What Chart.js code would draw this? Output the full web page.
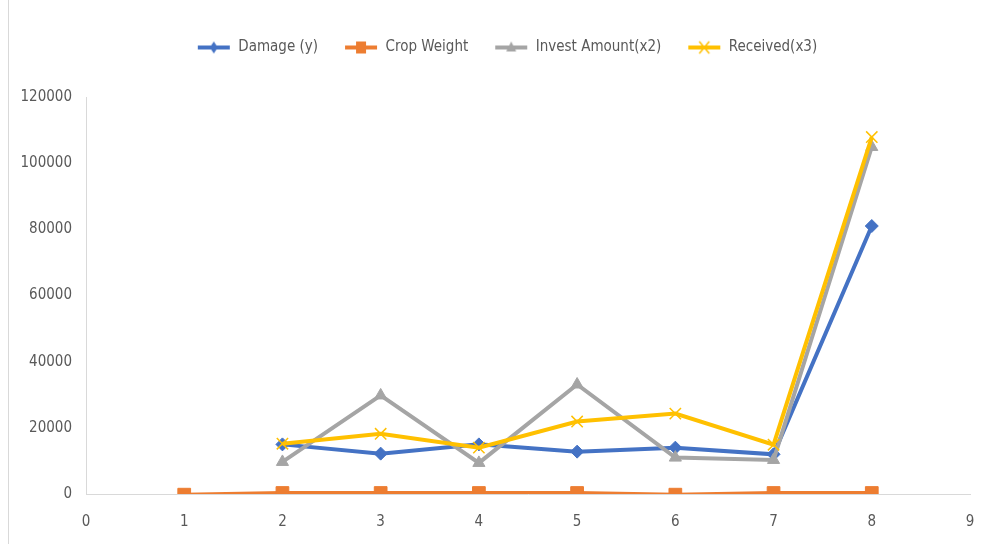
<!DOCTYPE html>
<html><head><meta charset="utf-8">
<script src="https://cdn.jsdelivr.net/npm/chart.js@4/dist/chart.umd.min.js"></script>
<style>
html,body{margin:0;padding:0;background:#fff;}
#wrap{position:relative;width:986px;height:544px;}
#edge{position:absolute;left:8px;top:0;width:1px;height:544px;background:#d9d9d9;}
canvas{position:absolute;left:0;top:0;}
</style></head>
<body><div id="wrap"><div id="edge"></div><canvas id="c" width="986" height="544"></canvas></div>
<script>
const xTicks = [0,1,2,3,4,5,6,7,8,9];
const seriesNames = ['Damage (y)','Crop Weight','Invest Amount(x2)','Received(x3)'];
const damageX = [2,3,4,5,6,7,8];
const damageY = [15000,12200,15000,12800,14000,12000,81000];
const cropX = [1,2,3,4,5,6,7,8];
const cropY = [-200,300,300,300,300,-200,300,300];
const investX = [2,3,4,5,6,7,8];
const investY = [9700,29800,9400,33100,11000,10300,104900];
const receivedX = [2,3,4,5,6,7,8];
const receivedY = [15200,18200,14000,21900,24300,14900,107900];
const yTicks = [0,20000,40000,60000,80000,100000,120000];

const colors = ['#4472C4','#ED7D31','#A5A5A5','#FFC000'];
const styles = ['rectRot','rect','triangle','crossRot'];
const radii = [6.5,9,7,8];

function pts(xs, ys){ return xs.map((x,i)=>({x:x,y:ys[i]})); }

function legendIcon(i){
  const c = document.createElement('canvas');
  c.width = 34; c.height = 16;
  const g = c.getContext('2d');
  g.strokeStyle = colors[i]; g.lineWidth = 4;
  g.beginPath(); g.moveTo(1,8); g.lineTo(33,8); g.stroke();
  g.fillStyle = colors[i];
  const cx=17, cy=8;
  if(i===0){ g.beginPath(); g.moveTo(cx,cy-6); g.lineTo(cx+4,cy); g.lineTo(cx,cy+6); g.lineTo(cx-4,cy); g.closePath(); g.fill(); }
  else if(i===1){ g.fillRect(cx-5,cy-6,10,12); }
  else if(i===2){ g.beginPath(); g.moveTo(cx,cy-6); g.lineTo(cx+5,cy+4); g.lineTo(cx-5,cy+4); g.closePath(); g.fill(); }
  else { g.lineWidth=1.5; g.beginPath(); g.moveTo(cx-5,cy-6); g.lineTo(cx+5,cy+6); g.moveTo(cx+5,cy-6); g.lineTo(cx-5,cy+6); g.stroke(); }
  return c;
}
const icons = [0,1,2,3].map(legendIcon);

function ds(i, data){
  return {
    label: seriesNames[i], data: data,
    borderColor: colors[i], backgroundColor: colors[i],
    borderWidth: 4, pointStyle: styles[i], pointRadius: radii[i],
    pointBorderWidth: i===3?1.5:1, pointBorderColor: colors[i],
    pointBackgroundColor: colors[i], tension: 0, order: 4-i
  };
}

const legendSpace = {
  id: 'legendSpace',
  beforeInit(chart){
    const lg = chart.legend;
    const fit = lg.fit;
    lg.fit = function(){ fit.call(lg); this.height += 32; };
    const draw = lg.draw;
    lg.draw = function(){ const ctx = chart.ctx; ctx.save(); ctx.translate(22,0); draw.call(lg); ctx.restore(); };
  }
};

const FONT = "'DejaVu Sans Condensed','DejaVu Sans',sans-serif";
new Chart(document.getElementById('c'), {
  type: 'line',
  data: { datasets: [ds(0,pts(damageX,damageY)), ds(1,pts(cropX,cropY)), ds(2,pts(investX,investY)), ds(3,pts(receivedX,receivedY))] },
  options: {
    responsive: false, animation: false,
    layout: { padding: { left: 0, right: 16, top: 14, bottom: 2 } },
    plugins: {
      tooltip: { enabled: false },
      legend: {
        position: 'top',
        labels: {
          usePointStyle: true, pointStyleWidth: 34,
          color: '#595959', font: { family: FONT, size: 15 },
          padding: 26,
          generateLabels: (chart) => chart.data.datasets.map((d,i)=>({
            text: d.label, pointStyle: icons[i], fillStyle: colors[i], strokeStyle: colors[i],
            lineWidth: 0, hidden: false, datasetIndex: i, fontColor: '#595959'
          }))
        }
      }
    },
    scales: {
      x: {
        type: 'linear', min: 0, max: 9,
        afterBuildTicks: (s)=>{ s.ticks = xTicks.map(v=>({value:v})); },
        grid: { display: false },
        border: { display: true, color: '#d9d9d9', width: 1 },
        ticks: { color: '#595959', font: { family: FONT, size: 15 }, padding: 11, maxRotation: 0 }
      },
      y: {
        min: 0, max: 120000,
        afterBuildTicks: (s)=>{ s.ticks = yTicks.map(v=>({value:v})); },
        afterFit: (s)=>{ s.width = 86; },
        grid: { display: false },
        border: { display: true, color: '#d9d9d9', width: 1 },
        ticks: { color: '#595959', font: { family: FONT, size: 15 }, padding: 6, callback: (v)=>String(v) }
      }
    }
  },
  plugins: [legendSpace]
});
</script></body></html>
